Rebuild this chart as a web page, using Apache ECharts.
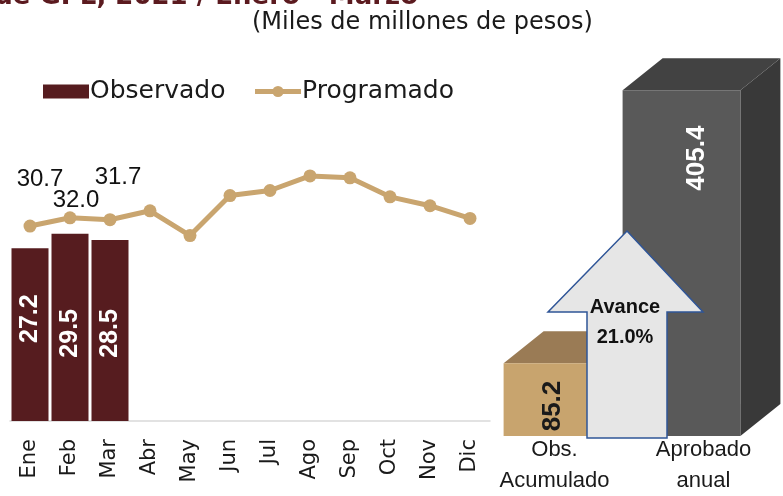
<!DOCTYPE html>
<html>
<head>
<meta charset="utf-8">
<script src="https://cdn.jsdelivr.net/npm/echarts@6/dist/echarts.min.js"></script>
<style>
  html, body { margin: 0; padding: 0; background: #fff; }
  #main { width: 783px; height: 496px; }
</style>
</head>
<body>
<div id="main"></div>
<script>
// datos del periodo
const months = ['Ene', 'Feb', 'Mar', 'Abr', 'May', 'Jun', 'Jul', 'Ago', 'Sep', 'Oct', 'Nov', 'Dic'];
const observado = [27.2, 29.5, 28.5];
const programado = [30.7, 32.0, 31.7, 33.1, 29.2, 35.5, 36.3, 38.6, 38.3, 35.3, 33.9, 31.9];
const labeledMonths = 3; // solo se rotulan Ene-Mar del programado

// comparativo anual
const totalCats = ['Obs.\nAcumulado', 'Aprobado\nanual'];
const totalVals = [85.2, 405.4];

const RED = '#561c1f';
const TAN = '#c9a56f';
const FONT_AXIS = 'DejaVu Sans';
const FONT_NUM = 'Liberation Sans';

// colores de las cajas 3D
const boxColors = [
  { front: '#c8a46e', top: '#9a7b55', side: '#8a6c48', text: '#1a1a1a' },
  { front: '#595959', top: '#424242', side: '#393939', text: '#ffffff' }
];
// donde va la etiqueta dentro de cada caja
const labelSpot = [
  { fx: 0.42, from: 'base', dy: -30 },
  { fx: 0.63, from: 'top', dy: 68 }
];
const lineOffsets = [[10, -23], [6, 6], [8, -19]];
const barLabelShift = [16, -6, -3]; // desplazamiento vertical de la etiqueta (hacia arriba)

const chart = echarts.init(document.getElementById('main'));

const avance = (totalVals[0] / totalVals[1] * 100).toFixed(1);

chart.setOption({
  animation: false,
  title: {
    text: '(Miles de millones de pesos)',
    left: 247,
    top: 6,
    textStyle: { fontFamily: FONT_AXIS, fontSize: 24, fontWeight: 'normal', color: '#1a1a1a' }
  },
  legend: {
    left: 38,
    top: 74,
    itemWidth: 46,
    itemHeight: 14,
    itemGap: 27,
    textStyle: { fontFamily: FONT_AXIS, fontSize: 25, color: '#1a1a1a', padding: [0, 0, 0, -4] },
    data: [
      { name: 'Observado', icon: 'rect' },
      { name: 'Programado', lineStyle: { width: 5 } }
    ]
  },
  grid: [
    { left: 10, right: 293, top: 103.5, bottom: 75 },
    { left: 503, right: 42, top: 9.5, bottom: 60 },
    { left: 480, right: 5, top: 9.5, bottom: 60 }
  ],
  xAxis: [
    {
      type: 'category',
      gridIndex: 0,
      data: months,
      axisTick: { show: false },
      axisLine: { lineStyle: { color: '#d9d9d9', width: 1.5 } },
      axisLabel: {
        rotate: 90,
        interval: 0,
        margin: 18,
        fontFamily: FONT_AXIS,
        fontSize: 21,
        color: '#1a1a1a'
      }
    },
    {
      type: 'category',
      gridIndex: 1,
      data: totalCats,
      show: false
    },
    {
      type: 'category',
      gridIndex: 2,
      data: totalCats,
      axisTick: { show: false },
      axisLine: { show: false },
      axisLabel: {
        interval: 0,
        margin: 10,
        lineHeight: 31,
        fontFamily: FONT_NUM,
        fontSize: 22,
        color: '#1a1a1a'
      }
    }
  ],
  yAxis: [
    { type: 'value', gridIndex: 0, min: 0, max: 50, show: false },
    { type: 'value', gridIndex: 1, min: 0, max: 500, show: false },
    { type: 'value', gridIndex: 2, min: 0, max: 500, show: false }
  ],
  series: [
    {
      name: 'Observado',
      type: 'bar',
      xAxisIndex: 0,
      yAxisIndex: 0,
      barCategoryGap: '7.5%',
      itemStyle: { color: RED },
      data: observado.map((v, i) => ({
        value: v,
        label: {
          show: true,
          position: 'inside',
          rotate: 90,
          offset: [barLabelShift[i], 0],
          fontFamily: FONT_NUM,
          fontWeight: 'bold',
          fontSize: 25,
          color: '#ffffff',
          formatter: p => p.value.toFixed(1)
        }
      }))
    },
    {
      name: 'Programado',
      type: 'line',
      xAxisIndex: 0,
      yAxisIndex: 0,
      symbol: 'circle',
      symbolSize: 13,
      lineStyle: { color: TAN, width: 5 },
      itemStyle: { color: TAN },
      data: programado.map((v, i) => ({
        value: v,
        label: {
          show: i < labeledMonths,
          position: 'top',
          offset: lineOffsets[i] || [0, 0],
          fontFamily: FONT_NUM,
          fontSize: 24,
          color: '#111',
          formatter: p => p.value.toFixed(1)
        }
      }))
    },
    {
      name: 'Total',
      type: 'custom',
      xAxisIndex: 1,
      yAxisIndex: 1,
      data: totalVals.map((v, i) => [i, v]),
      renderItem(params, api) {
        const i = api.value(0);
        const val = api.value(1);
        const top = api.coord([i, val]);
        const base = api.coord([i, 0]);
        const band = api.size([1, 0])[0];
        const w = band * 0.99;
        const x0 = top[0] - w / 2;
        const x1 = x0 + w;
        const y0 = top[1];
        const y1 = base[1];
        const dx = 40, dy = -32;
        const c = boxColors[i];
        const spot = labelSpot[i];
        const lx = x0 + w * spot.fx;
        const ly = (spot.from === 'base' ? y1 : y0) + spot.dy;
        return {
          type: 'group',
          children: [
            { type: 'polygon', shape: { points: [[x1, y0], [x1 + dx, y0 + dy], [x1 + dx, y1 + dy], [x1, y1]] }, style: { fill: c.side } },
            { type: 'polygon', shape: { points: [[x0, y0], [x0 + dx, y0 + dy], [x1 + dx, y0 + dy], [x1, y0]] }, style: { fill: c.top } },
            { type: 'rect', shape: { x: x0, y: y0, width: w, height: y1 - y0 }, style: { fill: c.front } },
            {
              type: 'text',
              x: lx,
              y: ly,
              rotation: Math.PI / 2,
              style: {
                text: val.toFixed(1),
                x: 0, y: 0,
                align: 'center',
                verticalAlign: 'middle',
                fontFamily: FONT_NUM,
                fontWeight: 'bold',
                fontSize: 26,
                fill: c.text
              }
            }
          ]
        };
      }
    }
  ],
  graphic: [
    {
      // titulo cortado en la parte superior
      type: 'text',
      x: 418,
      y: -3,
      style: {
        text: 'o de GPL, 2021 / Enero - Marzo',
        align: 'right',
        verticalAlign: 'middle',
        fontFamily: FONT_AXIS,
        fontWeight: 'bold',
        fontSize: 26,
        fill: '#5b1a1f'
      }
    },
    {
      type: 'polygon',
      z: 100,
      shape: {
        points: [[627, 231], [703, 312], [667, 312], [667, 438], [587, 438], [587, 312], [548, 312]]
      },
      style: { fill: '#e6e6e6', stroke: '#2f5597', lineWidth: 1.5 }
    },
    {
      type: 'text',
      z: 101,
      x: 625,
      y: 322,
      style: {
        text: 'Avance\n' + avance + '%',
        align: 'center',
        verticalAlign: 'middle',
        lineHeight: 30,
        fontFamily: FONT_NUM,
        fontWeight: 'bold',
        fontSize: 20,
        fill: '#111'
      }
    }
  ]
});
</script>
</body>
</html>
